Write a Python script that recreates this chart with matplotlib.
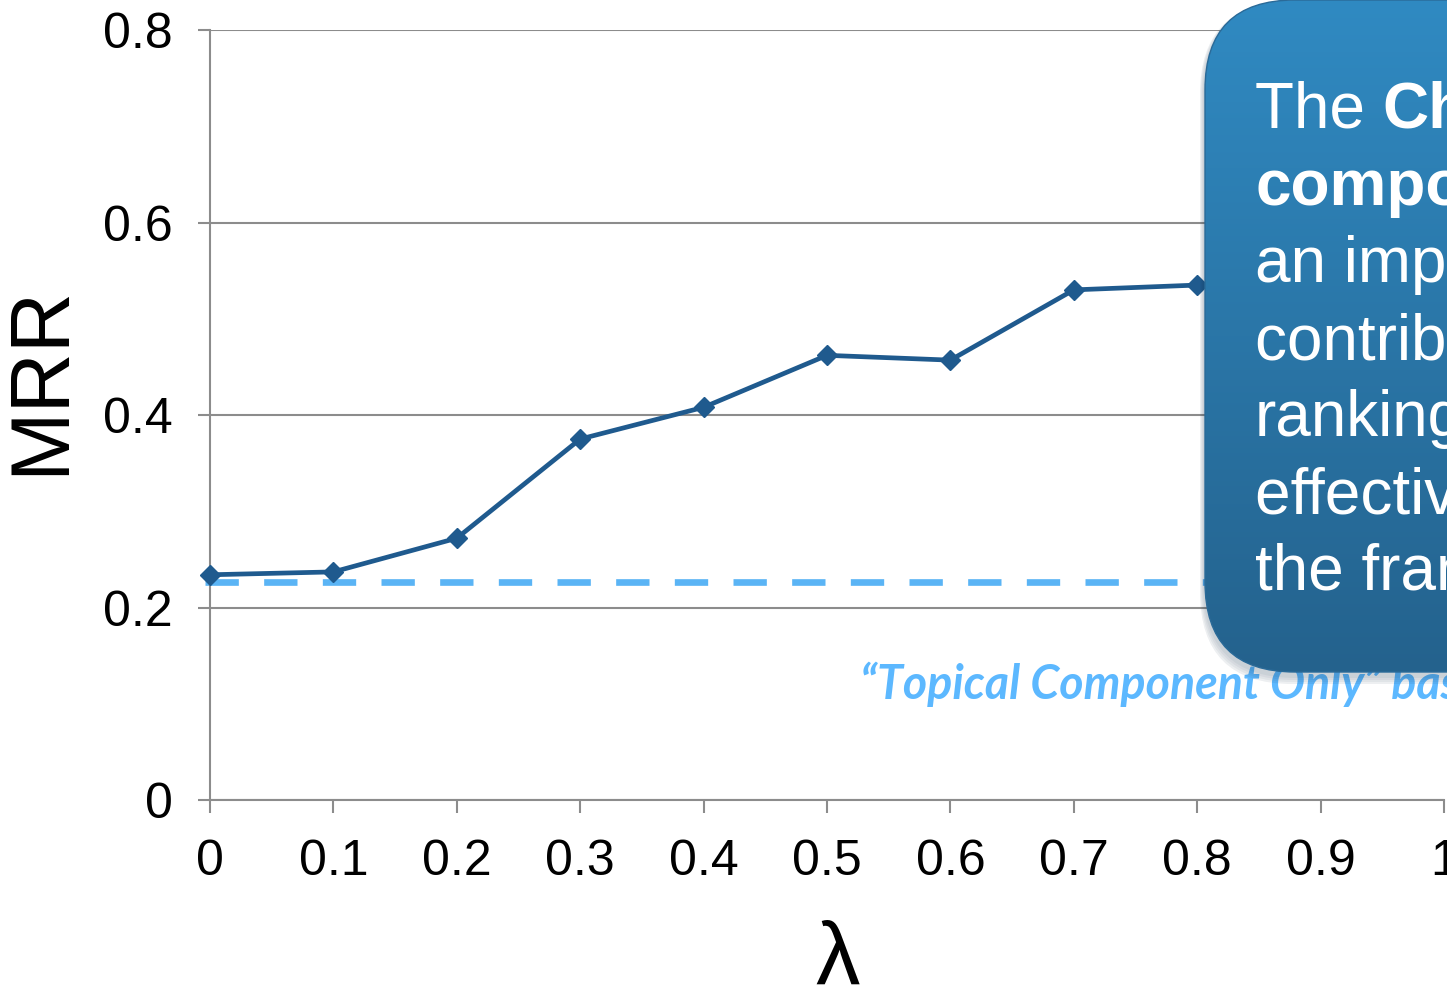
import numpy as np
import matplotlib
matplotlib.use("Agg")
import matplotlib.pyplot as plt
from matplotlib.patches import FancyBboxPatch

plt.rcParams["font.family"] = ["Liberation Sans", "DejaVu Sans"]

# data
LAMBDA = [0.0, 0.1, 0.2, 0.3, 0.4, 0.5, 0.6, 0.7, 0.8]
MRR    = [0.234, 0.237, 0.272, 0.375, 0.408, 0.462, 0.457, 0.530, 0.535]
BASELINE = 0.2265
XTICKS = [0, 0.1, 0.2, 0.3, 0.4, 0.5, 0.6, 0.7, 0.8, 0.9, 1]
XLABELS = ["0", "0.1", "0.2", "0.3", "0.4", "0.5", "0.6", "0.7", "0.8", "0.9", "1"]
YTICKS = [0, 0.2, 0.4, 0.6, 0.8]
YLABELS = ["0", "0.2", "0.4", "0.6", "0.8"]
CALLOUT = [("The ", "Chronological"), ("", "component"), ("an important", ""),
           ("contribution to", ""), ("ranking", ""), ("effectiveness of", ""),
           ("the framework", "")]
BASE_LABEL = "\u201cTopical Component Only\u201d baseline"

W, H = 1447, 993
fig = plt.figure(figsize=(W / 100, H / 100), dpi=100)
ax = fig.add_axes([210 / W, 1 - 800 / H, (1444 - 210) / W, (800 - 30) / H])

GRAY = "#8c8c8c"
ax.set_xlim(0, 1)
ax.set_ylim(0, 0.8)
ax.set_yticks(YTICKS, YLABELS)
ax.set_xticks(XTICKS, XLABELS)
ax.grid(axis="y", color=GRAY, lw=1.5)
ax.set_axisbelow(True)
for s in ["top", "right"]:
    ax.spines[s].set_visible(False)
for s in ["left", "bottom"]:
    ax.spines[s].set_color(GRAY)
    ax.spines[s].set_linewidth(1.5)
ax.tick_params(axis="both", colors=GRAY, labelcolor="black", labelsize=36,
               length=9, width=1.5, direction="out")
ax.tick_params(axis="x", pad=19)
ax.tick_params(axis="y", pad=18)
ax.set_ylabel("MRR", fontsize=60)
ax.yaxis.set_label_coords(-0.105, 0.545)
ax.set_xlabel("\u03bb", fontsize=64)
ax.xaxis.set_label_coords(0.509, -0.155)

ax.plot([-0.004, 1.0], [BASELINE, BASELINE], color="#5ab4f5", lw=4.8,
        dashes=(5.0, 3.8), solid_capstyle="butt", clip_on=False, zorder=2)
ax.plot(LAMBDA, MRR, color="#1f5a8e", lw=3.4, marker="D", ms=10.5,
        clip_on=False, zorder=3)

# overlay in pixel coordinates for the callout
ov = fig.add_axes([0, 0, 1, 1])
ov.set_xlim(0, W)
ov.set_ylim(H, 0)
ov.axis("off")
ov.patch.set_alpha(0)

ov.text(860, 699, BASE_LABEL, family=["Lato", "DejaVu Sans"], fontsize=33.5,
        weight="bold", style="italic", color="#5cb8ff", va="baseline", zorder=1)

bx, by, bw, bh = 1205, 0, 400, 672
for i, a in enumerate([0.05, 0.05, 0.06, 0.08]):
    sh = FancyBboxPatch((bx - 2 - i, by + 2), bw, bh + 4 + i * 2,
                        boxstyle="round,pad=0,rounding_size=92",
                        fc="#1a3550", ec="none", alpha=a, zorder=4)
    ov.add_patch(sh)
box = FancyBboxPatch((bx, by), bw, bh, boxstyle="round,pad=0,rounding_size=90",
                     fc="none", ec="#2a6a98", lw=1, zorder=6)
ov.add_patch(box)
grad = np.linspace(0, 1, 256).reshape(-1, 1)
c0 = np.array([0x30, 0x8a, 0xc2]) / 255
c1 = np.array([0x24, 0x62, 0x8d]) / 255
img = c0 + (c1 - c0) * grad[..., None]
im = ov.imshow(img, extent=[bx, bx + bw, by + bh, by], aspect="auto", zorder=5)
im.set_clip_path(box)
ov.set_xlim(0, W)
ov.set_ylim(H, 0)

y0, step = 128, 77
for i, (normal, bold) in enumerate(CALLOUT):
    y = y0 + i * step
    t = ov.text(1255, y, normal, fontsize=46, color="white", va="baseline", zorder=7)
    if bold:
        fig.canvas.draw()
        bb = t.get_window_extent()
        xx = 1255 + (bb.width if normal else 0)
        ov.text(xx, y, bold, fontsize=46, weight="bold", color="white",
                va="baseline", zorder=7)

fig.savefig("out.png", dpi=100)
